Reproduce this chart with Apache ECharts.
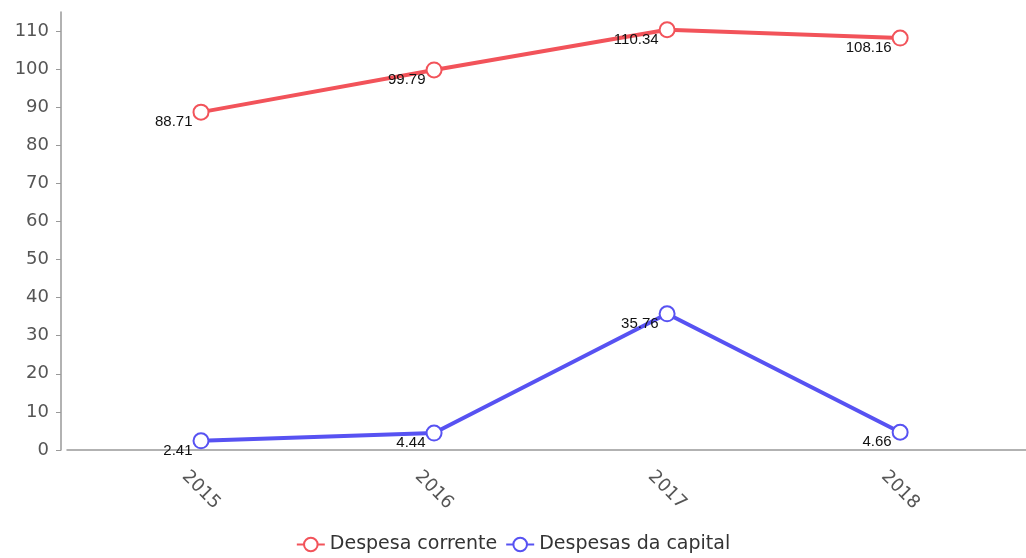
<!DOCTYPE html>
<html>
<head>
<meta charset="utf-8">
<script src="https://cdn.jsdelivr.net/npm/echarts@6/dist/echarts.min.js"></script>
<style>
  html, body { margin: 0; padding: 0; background: #fff; }
  #main { width: 1026px; height: 558px; }
</style>
</head>
<body>
<div id="main"></div>
<script>
    var years = [2015, 2016, 2017, 2018];
    var despesaCorrente = [88.71, 99.79, 110.34, 108.16];
    var despesasCapital = [2.41, 4.44, 35.76, 4.66];
    var yTicks = [0, 10, 20, 30, 40, 50, 60, 70, 80, 90, 100, 110];

    function pairs(vals) {
        return years.map(function (y, i) { return [y, vals[i]]; });
    }

    var myChart = echarts.init(document.getElementById('main'));

    var labelStyle = {
        show: true,
        position: 'left',
        distance: 0,
        offset: [0, 10],
        color: '#111',
        fontFamily: 'Liberation Sans',
        fontSize: 15
    };

    var option = {
        backgroundColor: 'white',
        animation: false,
        legend: {
            top: 530,
            left: 'center',
            itemWidth: 28,
            itemHeight: 17,
            itemGap: 8,
            itemStyle: { borderWidth: 3 },
            textStyle: {
                color: '#333',
                fontFamily: 'DejaVu Sans',
                fontSize: 19
            },
            data: ['Despesa corrente', 'Despesas da capital']
        },
        grid: {
            left: 67,
            right: 0,
            top: 12,
            bottom: 108,
            containLabel: false
        },
        xAxis: {
            type: 'value',
            min: 2014.425,
            max: 2018.54,
            splitLine: { show: false },
            axisTick: { show: false },
            axisLine: { lineStyle: { color: '#999', width: 1.5 } },
            axisLabel: {
                customValues: years,
                formatter: function (v) { return String(v); },
                rotate: -45,
                align: 'center',
                verticalAlign: 'middle',
                margin: 40,
                color: '#555',
                fontFamily: 'DejaVu Sans',
                fontSize: 18
            }
        },
        yAxis: {
            type: 'value',
            min: 0,
            max: 115,
            offset: 6,
            splitLine: { show: false },
            axisLine: { show: true, lineStyle: { color: '#999', width: 1.5 } },
            axisTick: { show: true, length: 5, customValues: yTicks, lineStyle: { color: '#999' } },
            axisLabel: {
                customValues: yTicks,
                margin: 12,
                color: '#555',
                fontFamily: 'DejaVu Sans',
                fontSize: 18
            }
        },
        series: [{
            name: 'Despesa corrente',
            type: 'line',
            data: pairs(despesaCorrente),
            symbol: 'emptyCircle',
            symbolSize: 15,
            color: '#f2535a',
            lineStyle: { width: 4 },
            itemStyle: { borderWidth: 3, color: '#f2535a' },
            label: labelStyle
        }, {
            name: 'Despesas da capital',
            type: 'line',
            data: pairs(despesasCapital),
            symbol: 'emptyCircle',
            symbolSize: 15,
            color: '#5752f2',
            lineStyle: { width: 4 },
            itemStyle: { borderWidth: 3, color: '#5752f2' },
            label: labelStyle
        }]
    };
    myChart.setOption(option);
</script>
</body>
</html>
